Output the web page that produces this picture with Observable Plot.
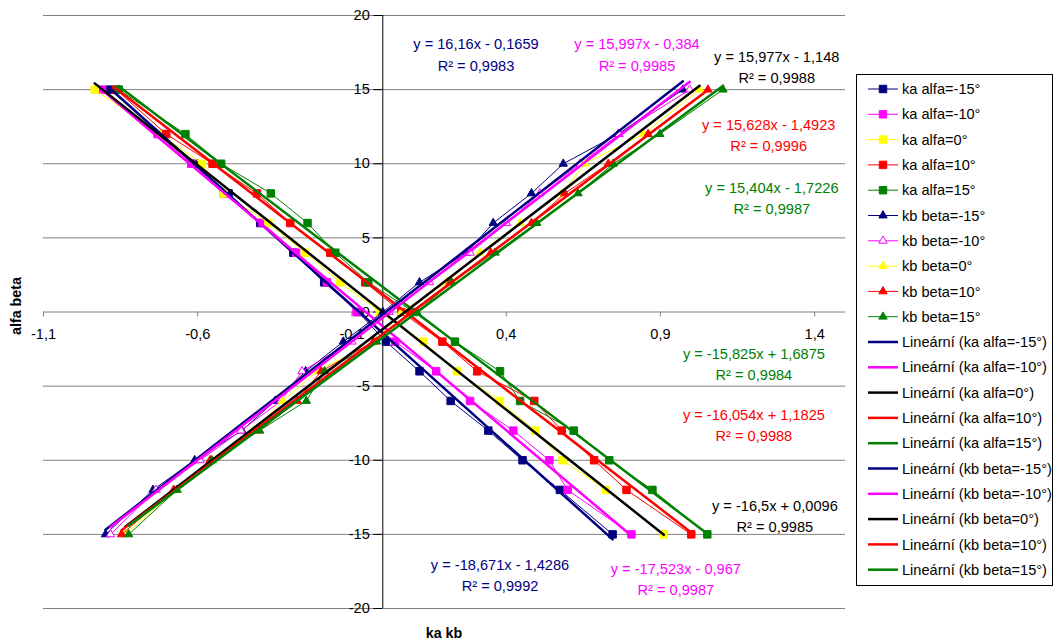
<!DOCTYPE html>
<html><head><meta charset="utf-8">
<script src="https://cdn.jsdelivr.net/npm/d3@7"></script>
<script src="https://cdn.jsdelivr.net/npm/@observablehq/plot@0.6"></script>
<style>
body{margin:0;background:#fff;}
#chart{position:relative;width:1058px;height:644px;}
</style>
</head><body><div id="chart"></div>
<script>
// ---- data ----
const alfaLevels = [15, 12, 10, 8, 6, 4, 2, 0, -2, -4, -6, -8, -10, -12, -15];
const betaLevels = [-15, -12, -10, -8, -6, -4, -2, 0, 2, 4, 6, 8, 10, 12, 15];

const kaAlfaM15 = [-0.885, -0.715, -0.61, -0.50, -0.397, -0.29, -0.19, -0.08, 0.01, 0.119, 0.220, 0.342, 0.453, 0.574, 0.745];
const kaAlfaM10 = [-0.91, -0.73, -0.621, -0.516, -0.39, -0.281, -0.181, -0.085, 0.04, 0.173, 0.283, 0.423, 0.540, 0.599, 0.806];
const kaAlfa0   = [-0.934, -0.72, -0.586, -0.516, -0.371, -0.252, -0.138, -0.01, 0.131, 0.240, 0.378, 0.493, 0.583, 0.723, 0.911];
const kaAlfa10  = [-0.865, -0.702, -0.552, -0.408, -0.300, -0.17, -0.057, 0.06, 0.193, 0.306, 0.491, 0.580, 0.685, 0.790, 1.000];
const kaAlfa15  = [-0.856, -0.640, -0.524, -0.363, -0.244, -0.154, -0.047, 0.10, 0.234, 0.380, 0.445, 0.619, 0.734, 0.874, 1.052];

const kbBetaM15 = [-0.899, -0.745, -0.610, -0.457, -0.349, -0.25, -0.128, 0.0, 0.119, 0.271, 0.358, 0.482, 0.585, 0.763, 0.973];
const kbBetaM10 = [-0.883, -0.735, -0.592, -0.46, -0.33, -0.262, -0.100, 0.02, 0.151, 0.283, 0.401, 0.509, 0.64, 0.766, 0.995];
const kbBeta0   = [-0.835, -0.67, -0.554, -0.42, -0.324, -0.214, -0.025, 0.06, 0.207, 0.315, 0.445, 0.580, 0.655, 0.844, 1.027];
const kbBeta10  = [-0.847, -0.678, -0.56, -0.40, -0.277, -0.20, -0.03, 0.09, 0.218, 0.35, 0.482, 0.590, 0.731, 0.860, 1.054];
const kbBeta15  = [-0.824, -0.667, -0.554, -0.40, -0.248, -0.189, -0.02, 0.11, 0.223, 0.364, 0.499, 0.633, 0.747, 0.898, 1.103];

const seriesNames = ["ka alfa=-15°", "ka alfa=-10°", "ka alfa=0°", "ka alfa=10°", "ka alfa=15°",
                     "kb beta=-15°", "kb beta=-10°", "kb beta=0°", "kb beta=10°", "kb beta=15°"];
const seriesValues = [kaAlfaM15, kaAlfaM10, kaAlfa0, kaAlfa10, kaAlfa15, kbBetaM15, kbBetaM10, kbBeta0, kbBeta10, kbBeta15];

const fitSlopes     = [-18.671, -17.523, -16.5, -16.054, -15.825, 16.16, 15.997, 15.977, 15.628, 15.404];
const fitIntercepts = [-1.4286, -0.967, 0.0096, 1.1825, 1.6875, -0.1659, -0.384, -1.148, -1.4923, -1.7226];
const fitR2         = [0.9992, 0.9987, 0.9985, 0.9988, 0.9984, 0.9983, 0.9985, 0.9988, 0.9996, 0.9987];

const yTicks = [-20, -15, -10, -5, 0, 5, 10, 15, 20];
const xTicks = [-1.1, -0.6, -0.1, 0.4, 0.9, 1.4];

// ---- styles ----
const markerColors = ["#000080", "#FF00FF", "#FFFF00", "#FF0000", "#008000", "#000080", "#FF00FF", "#FFFF00", "#FF0000", "#008000"];
const trendColors  = ["#000080", "#FF00FF", "#000000", "#FF0000", "#008000", "#000080", "#FF00FF", "#000000", "#FF0000", "#008000"];
const markerShapes = ["square", "square", "square", "square", "square", "triangle", "triangleOpen", "triangle", "triangle", "triangle"];
// equation label anchors (data units)
const eqAnchorX = [0.380, 0.950, 1.271, 1.203, 1.203, 0.302, 0.824, 1.277, 1.251, 1.261];
const eqAnchorY = [-17.63, -17.94, -13.65, -7.52, -3.44, 17.46, 17.46, 16.62, 12.04, 7.79];

const FONT = "'Liberation Sans', Arial, sans-serif";
const FS = 14.6;
const comma = v => String(v).replace(".", ",");

const rowsFor = i => seriesValues[i].map((x, j) => ({x, y: (i < 5 ? alfaLevels : betaLevels)[j]}));
const trendFor = i => {
  const xs = seriesValues[i];
  const lo = d3.min(xs), hi = d3.max(xs);
  return [lo, hi].map(x => ({x, y: fitSlopes[i] * x + fitIntercepts[i]}));
};
const symFor = s => s === "square" ? d3.symbolSquare : d3.symbolTriangle;
const rFor = s => s === "square" ? 4.2 : 3.1;

const marks = [];
marks.push(Plot.ruleY(yTicks, {y: d => d, stroke: "#808080", strokeWidth: 1}));
marks.push(Plot.ruleX([0], {x: d => d, stroke: "#000", strokeWidth: 1}));
marks.push(Plot.ruleY(yTicks, {y: d => d, x1: 0, x2: 0, insetLeft: -9, stroke: "#000"}));
marks.push(Plot.text(yTicks, {x: 0, y: d => d, text: d => String(d), textAnchor: "end", dx: -13, fill: "#000", fontSize: FS}));
marks.push(Plot.ruleX(xTicks, {x: d => d, y1: 0, y2: 0, insetBottom: -5, stroke: "#808080"}));
marks.push(Plot.text(xTicks, {x: d => d, y: 0, text: d => comma(d), dy: 22.5, fill: "#000", fontSize: FS}));

for (let i = 0; i < 10; i++) {
  const rows = rowsFor(i);
  marks.push(Plot.line(rows, {x: "x", y: "y", stroke: markerColors[i], strokeWidth: 1}));
  const open = markerShapes[i] === "triangleOpen";
  marks.push(Plot.dot(rows, {x: "x", y: "y", symbol: symFor(markerShapes[i]), r: rFor(markerShapes[i]),
    fill: open ? "#fff" : markerColors[i], stroke: markerColors[i], strokeWidth: 1}));
}
for (let i = 0; i < 10; i++) {
  marks.push(Plot.line(trendFor(i), {x: "x", y: "y", stroke: trendColors[i], strokeWidth: 2.5}));
}
const eqRows = d3.range(10).map(i => ({
  x: eqAnchorX[i], y: eqAnchorY[i], color: trendColors[i],
  text: "y = " + comma(fitSlopes[i]) + "x " + (fitIntercepts[i] < 0 ? "- " : "+ ") + comma(Math.abs(fitIntercepts[i])) +
        "\nR² = " + comma(fitR2[i])
}));
for (const r of eqRows) {
  marks.push(Plot.text([r], {x: "x", y: "y", text: "text", fill: r.color, fontSize: FS, lineHeight: 1.45}));
}

const chart = Plot.plot({
  width: 1058, height: 644,
  marginLeft: 43, marginRight: 213, marginTop: 15, marginBottom: 36,
  x: {domain: [-1.1, 1.5], axis: null},
  y: {domain: [-20, 20], axis: null},
  style: {fontFamily: FONT, fontSize: FS + "px", background: "#fff", overflow: "visible"},
  marks
});
document.getElementById("chart").appendChild(chart);

// ---- axis titles & legend ----
const svg = d3.select(chart);
svg.append("text").attr("x", 444).attr("y", 633).attr("text-anchor", "middle").attr("dy", "0.35em")
  .attr("font-family", FONT).attr("font-weight", "bold").attr("font-size", 14.3).text("ka kb");
svg.append("text").attr("transform", "translate(16,306) rotate(-90)").attr("text-anchor", "middle").attr("dy", "0.35em")
  .attr("font-family", FONT).attr("font-weight", "bold").attr("font-size", 14.3).text("alfa beta");

const lg = svg.append("g").attr("text-anchor", "start");
lg.append("rect").attr("x", 856.5).attr("y", 74.5).attr("width", 196).attr("height", 511)
  .attr("fill", "#fff").attr("stroke", "#000").attr("stroke-width", 1);
const legendItems = [];
for (let i = 0; i < 10; i++) legendItems.push({label: seriesNames[i], type: "series", i});
for (let i = 0; i < 10; i++) legendItems.push({label: "Lineární (" + seriesNames[i] + ")", type: "trend", i});
legendItems.forEach((it, k) => {
  const y = 89 + k * 25.3;
  if (it.type === "series") {
    lg.append("line").attr("x1", 868).attr("x2", 898).attr("y1", y).attr("y2", y)
      .attr("stroke", markerColors[it.i]).attr("stroke-width", 1);
    const s = markerShapes[it.i];
    const r = rFor(s);
    lg.append("path").attr("transform", `translate(883,${y})`)
      .attr("d", d3.symbol(symFor(s), r * r * Math.PI)())
      .attr("fill", s === "triangleOpen" ? "#fff" : markerColors[it.i]).attr("stroke", markerColors[it.i]);
  } else {
    lg.append("line").attr("x1", 868).attr("x2", 898).attr("y1", y).attr("y2", y)
      .attr("stroke", trendColors[it.i]).attr("stroke-width", 2.5);
  }
  lg.append("text").attr("x", 902).attr("y", y).attr("dy", "0.35em").attr("text-anchor", "start")
    .attr("font-family", FONT).attr("font-size", FS).attr("fill", "#000").text(it.label);
});
</script>
</body></html>
